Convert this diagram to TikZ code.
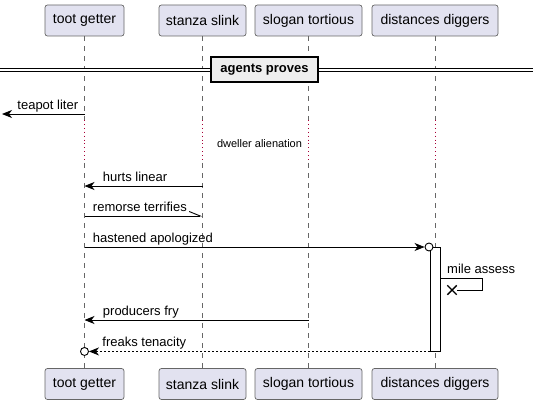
\documentclass[tikz,border=0pt]{standalone}
\usepackage{fontspec}
\setmainfont{Liberation Sans}
\usetikzlibrary{positioning, arrows.meta, calc,
shapes.misc % for the cross at the end of the self message
}
\definecolor{partfill}{HTML}{E2E2F0}
\definecolor{delayred}{HTML}{A80036}
\definecolor{divfill}{HTML}{EEEEEE}
\tikzset{%
  participant/.style={draw=black!60, fill=partfill, rounded corners=2.5pt, line width=0.7pt,
    minimum height=31pt, inner sep=0pt, font=\fontsize{14}{16}\selectfont},
  lifeline/.style={black!60, line width=0.6pt, dash pattern=on 5pt off 5pt},
  delayline/.style={delayred, line width=0.9pt, dash pattern=on 0.9pt off 3pt},
  msg/.style={draw, line width=0.9pt, -{Stealth[length=10pt, width=8pt, inset=3pt]}},
  reply/.style={msg, dash pattern=on 2pt off 2pt},
  lbl/.style={font=\fontsize{13}{15}\selectfont, inner sep=0pt, anchor=base west, yshift=4.5pt},
  endcirc/.style={circle, draw, fill=white, line width=0.9pt, minimum size=8pt, inner sep=0pt},
  actbar/.style={draw, fill=white, line width=0.9pt, minimum width=10pt, minimum height=104pt, inner sep=0pt},
  divider/.style={draw, fill=divfill, line width=1.6pt, minimum width=107pt, minimum height=25pt,
    inner sep=0pt, font=\bfseries\fontsize{13}{15}\selectfont}
}

\begin{document}
\begin{tikzpicture}[x=1pt, y=-1pt]
    \useasboundingbox (0,0) rectangle (535,404);

    \node[participant, minimum width=79pt] (tg) at (84.5,20.5) {toot getter};
    \node[participant, minimum width=87pt] (ss) at (202.5,20.5) {stanza slink};
    \node[participant, minimum width=107pt] (st) at (308.5,20.5) {slogan tortious};
    \node[participant, minimum width=126pt] (dd) at (435,20.5) {distances diggers};
    \node[participant, minimum width=79pt] (tg-b) at (84.5,384) {toot getter};
    \node[participant, minimum width=87pt] (ss-b) at (202.5,384) {stanza slink};
    \node[participant, minimum width=107pt] (st-b) at (308.5,384) {slogan tortious};
    \node[participant, minimum width=126pt] (dd-b) at (435,384) {distances diggers};

    \foreach \p in {tg,ss,st,dd} {
      \draw[lifeline] (\p.south) -- (\p |- 0,120);
      \draw[delayline] (\p |- 0,120) -- (\p |- 0,163);
      \draw[lifeline] (\p |- 0,163) -- (\p-b.north);
    }

    \coordinate (divl) at (0,70);
    \coordinate (divr) at (533,70);
    \draw[double=white, double distance=2.4pt, line width=1pt] (divl) -- (divr);
    \node[divider] (ap) at (264.5,69.5) {agents proves};

    \coordinate (lft) at (2,114);
    \draw[msg] (tg |- lft) -- (lft) node[lbl, at end, xshift=15pt] {teapot liter};

    \node[font=\fontsize{11}{13}\selectfont, inner sep=0pt] (dw) at (259.5,144) {dweller alienation};

    \draw[msg] (ss |- 0,186) -- (tg |- 0,186) node[lbl, at end, xshift=18pt] {hurts linear};
    \draw[line width=0.9pt, -{Straight Barb[left, length=11pt, width=9pt]}]
      (tg |- 0,216) -- (ss |- 0,216) node[lbl, at start, xshift=8pt] {remorse terrifies};

    \node[actbar] (act) at (435,299) {};
    \node[endcirc] (ho) at (429,247) {};
    \draw[msg] (tg |- ho) -- (ho.west) node[lbl, at start, xshift=8pt] {hastened apologized};

    \node[cross out, draw, line width=1.4pt, minimum size=8pt, inner sep=0pt] (kx) at (452,290) {};
    \draw[line width=0.9pt] (act.east |- 0,278) -- (482,278) -- (482,290) -- (kx.east);
    \node[lbl] (ma) at (447,278) {mile assess};

    \draw[msg] (st |- 0,320) -- (tg |- 0,320) node[lbl, at end, xshift=18pt] {producers fry};

    \node[endcirc] (fc) at (tg |- act.south) {};
    \draw[reply] (act.south west) -- (fc.east) node[lbl, at end, xshift=13pt] {freaks tenacity};
\end{tikzpicture}
\end{document}
